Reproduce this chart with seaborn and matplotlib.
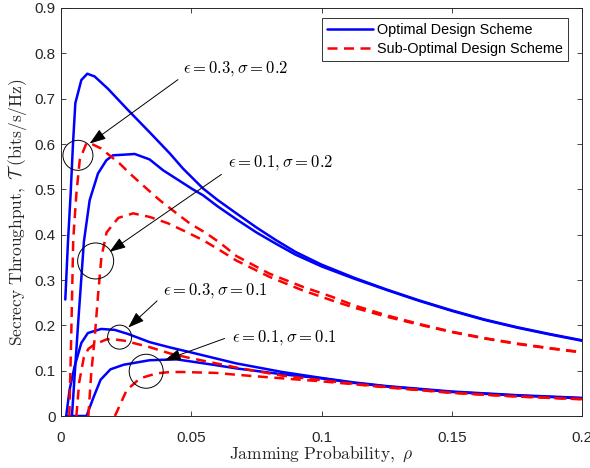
import numpy as np
import pandas as pd
import matplotlib
matplotlib.use("Agg")
import matplotlib.pyplot as plt
import seaborn as sns
from matplotlib.ticker import FixedLocator

# ---------------- data ----------------
schemes = ["Optimal Design Scheme", "Sub-Optimal Design Scheme"]
cases = ["eps0.3_sig0.2", "eps0.1_sig0.2", "eps0.3_sig0.1", "eps0.1_sig0.1"]

# Optimal design scheme
opt_a_x = [0.00165, 0.0027, 0.0037, 0.0046, 0.0055, 0.0078, 0.0101, 0.0129, 0.018, 0.0257, 0.034,
           0.0418, 0.0468, 0.0545, 0.06, 0.0673, 0.075, 0.0825, 0.09, 0.1, 0.1125, 0.125, 0.1375,
           0.15, 0.1625, 0.175, 0.1875, 0.2]
opt_a_y = [0.257, 0.387, 0.49, 0.60, 0.69, 0.741, 0.755, 0.749, 0.722, 0.675, 0.626,
           0.579, 0.546, 0.502, 0.477, 0.447, 0.416, 0.388, 0.362, 0.334, 0.305, 0.279, 0.255,
           0.233, 0.213, 0.196, 0.181, 0.167]

opt_b_x = [0.0042, 0.0065, 0.0088, 0.011, 0.0142, 0.0174, 0.0199, 0.0257, 0.0283, 0.034, 0.0392,
           0.0506, 0.0545, 0.06, 0.0673, 0.075, 0.0825, 0.09, 0.1, 0.1125, 0.125, 0.1375,
           0.15, 0.1625, 0.175, 0.1875, 0.2]
opt_b_y = [0.0, 0.198, 0.385, 0.476, 0.535, 0.564, 0.575, 0.577, 0.578, 0.566, 0.542,
           0.5, 0.487, 0.463, 0.434, 0.405, 0.380, 0.356, 0.330, 0.303, 0.278, 0.254,
           0.232, 0.212, 0.195, 0.180, 0.166]

opt_c_x = [0.002, 0.0033, 0.0052, 0.0078, 0.0103, 0.0154, 0.0206, 0.0257, 0.034, 0.042, 0.0494,
           0.0673, 0.085, 0.1, 0.1125, 0.125, 0.1375, 0.15, 0.1625, 0.175, 0.1875, 0.2]
opt_c_y = [0.0, 0.058, 0.109, 0.161, 0.183, 0.192, 0.19, 0.181, 0.163, 0.151, 0.141,
           0.116, 0.097, 0.084, 0.074, 0.066, 0.060, 0.054, 0.050, 0.046, 0.043, 0.040]

opt_d_x = [0.002, 0.0098, 0.0124, 0.0152, 0.019, 0.024, 0.034, 0.0443, 0.0596, 0.0673, 0.085,
           0.1, 0.1125, 0.125, 0.1375, 0.15, 0.1625, 0.175, 0.1875, 0.2]
opt_d_y = [0.0, 0.0, 0.04, 0.08, 0.103, 0.113, 0.123, 0.125, 0.112, 0.105, 0.092,
           0.083, 0.073, 0.065, 0.059, 0.053, 0.049, 0.045, 0.042, 0.039]

# Sub-optimal design scheme
sub_a_x = [0.0032, 0.0039, 0.0047, 0.0059, 0.0072, 0.0097, 0.0108, 0.0154, 0.0225, 0.0264, 0.0322,
           0.0379, 0.0437, 0.0494, 0.0558, 0.0615, 0.0673, 0.080, 0.0928, 0.104, 0.1125, 0.125,
           0.1375, 0.15, 0.1625, 0.175, 0.1875, 0.2]
sub_a_y = [0.0, 0.17, 0.39, 0.49, 0.565, 0.601, 0.603, 0.59, 0.557, 0.535, 0.505,
           0.476, 0.45, 0.425, 0.403, 0.38, 0.353, 0.314, 0.285, 0.263, 0.244, 0.222,
           0.203, 0.186, 0.172, 0.160, 0.150, 0.141]

sub_b_x = [0.0105, 0.0116, 0.0129, 0.0142, 0.0155, 0.0175, 0.022, 0.0277, 0.0341, 0.0411, 0.0481,
           0.0545, 0.0609, 0.0673, 0.080, 0.0928, 0.104, 0.1125, 0.125, 0.1375, 0.15, 0.1625,
           0.175, 0.1875, 0.2]
sub_b_y = [0.0, 0.094, 0.17, 0.265, 0.35, 0.405, 0.437, 0.447, 0.439, 0.425, 0.406,
           0.388, 0.366, 0.343, 0.307, 0.277, 0.255, 0.239, 0.219, 0.2015, 0.185, 0.171,
           0.159, 0.149, 0.140]

sub_c_x = [0.0059, 0.007, 0.0088, 0.0105, 0.0129, 0.0175, 0.0193, 0.0244, 0.0264, 0.034, 0.0418,
           0.0494, 0.0596, 0.0673, 0.085, 0.1, 0.1125, 0.125, 0.1375, 0.15, 0.1625, 0.175,
           0.1875, 0.2]
sub_c_y = [0.0, 0.075, 0.13, 0.148, 0.158, 0.169, 0.17, 0.166, 0.163, 0.152, 0.138,
           0.128, 0.116, 0.107, 0.089, 0.079, 0.071, 0.064, 0.0575, 0.0515, 0.047, 0.0432,
           0.0398, 0.0372]

sub_d_x = [0.0207, 0.0252, 0.0303, 0.0367, 0.0418, 0.0468, 0.0596, 0.0673, 0.085, 0.1, 0.1125,
           0.125, 0.1375, 0.15, 0.1625, 0.175, 0.1875, 0.2]
sub_d_y = [0.0, 0.057, 0.083, 0.094, 0.097, 0.097, 0.095, 0.091, 0.083, 0.0765, 0.070,
           0.063, 0.057, 0.051, 0.047, 0.043, 0.040, 0.037]

x_ticks = [0, 0.05, 0.1, 0.15, 0.2]
x_tick_labels = ["0", "0.05", "0.1", "0.15", "0.2"]
y_ticks = [0, 0.1, 0.2, 0.3, 0.4, 0.5, 0.6, 0.7, 0.8, 0.9]
y_tick_labels = ["0", "0.1", "0.2", "0.3", "0.4", "0.5", "0.6", "0.7", "0.8", "0.9"]

# annotations: label, text anchor, arrow tail, arrow tip, circle centre, circle radius (px)
ann_labels = [r"$\epsilon = 0.3, \sigma = 0.2$", r"$\epsilon = 0.1, \sigma = 0.2$",
              r"$\epsilon = 0.3, \sigma = 0.1$", r"$\epsilon = 0.1, \sigma = 0.1$"]
ann_text_xy = [(0.0467, 0.767), (0.0640, 0.560), (0.0391, 0.277), (0.0655, 0.173)]
ann_tail_xy = [(0.0449, 0.742), (0.0616, 0.533), (0.0369, 0.254), (0.0628, 0.171)]
ann_tip_xy = [(0.0110, 0.601), (0.0186, 0.362), (0.0258, 0.195), (0.0398, 0.123)]
circ_xy = [(0.0065, 0.575), (0.0133, 0.342), (0.0225, 0.174), (0.0327, 0.0987)]
circ_r = [15, 18, 12, 17]

# ---------------- build table ----------------
series = [
    (schemes[0], cases[0], opt_a_x, opt_a_y),
    (schemes[0], cases[1], opt_b_x, opt_b_y),
    (schemes[0], cases[2], opt_c_x, opt_c_y),
    (schemes[0], cases[3], opt_d_x, opt_d_y),
    (schemes[1], cases[0], sub_a_x, sub_a_y),
    (schemes[1], cases[1], sub_b_x, sub_b_y),
    (schemes[1], cases[2], sub_c_x, sub_c_y),
    (schemes[1], cases[3], sub_d_x, sub_d_y),
]
frames = []
for sch, cs, xs, ys in series:
    frames.append(pd.DataFrame({"rho": xs, "T": ys, "scheme": sch, "case": sch + cs}))
df = pd.concat(frames, ignore_index=True)

# ---------------- styling ----------------
sns.set_style("ticks")
plt.rcParams["mathtext.fontset"] = "cm"
plt.rcParams["font.family"] = ["Liberation Sans", "DejaVu Sans"]
plt.rcParams["axes.unicode_minus"] = False
plt.rcParams["lines.solid_joinstyle"] = "round"
plt.rcParams["lines.dash_joinstyle"] = "round"
dark = "#262626"

fig = plt.figure(figsize=(5.9, 4.68), dpi=100)
ax = fig.add_axes([61 / 590, 52 / 468, 521 / 590, 408 / 468])

sns.lineplot(data=df, x="rho", y="T", hue="scheme", style="scheme", units="case",
             estimator=None, sort=False, ax=ax,
             palette={schemes[0]: "#0000ff", schemes[1]: "#ff0000"},
             dashes={schemes[0]: "", schemes[1]: (4, 2.6)},
             linewidth=1.8, legend=True)

ax.set_xlim(0, 0.2)
ax.set_ylim(0, 0.9)
ax.xaxis.set_major_locator(FixedLocator(x_ticks))
ax.yaxis.set_major_locator(FixedLocator(y_ticks))
ax.set_xticklabels(x_tick_labels)
ax.set_yticklabels(y_tick_labels)
ax.tick_params(direction="in", top=True, right=True, length=3.5, width=0.6,
               labelsize=11, colors=dark)
ax.tick_params(axis="x", pad=11)
ax.tick_params(axis="y", pad=4)
for sp in ax.spines.values():
    sp.set_visible(True)
    sp.set_color(dark)
    sp.set_linewidth(0.7)

ax.set_xlabel(r"$\mathrm{Jamming\ Probability,}\ \rho$", fontsize=12.5, color=dark, labelpad=0)
ax.set_ylabel(r"$\mathrm{Secrecy\ Throughput,}\ \mathcal{T}\ \mathrm{(bits/s/Hz)}$",
              fontsize=12.5, color=dark, labelpad=4)

# legend
handles, labels = ax.get_legend_handles_labels()
leg = ax.legend(handles, labels, loc="upper right",
                bbox_to_anchor=((568.3 - 61) / 521, (416 - 18.3) / 408),
                borderaxespad=0, fancybox=False, frameon=True, edgecolor="black",
                fontsize=10.4, handlelength=3.2, handletextpad=0.3,
                labelspacing=0.3, borderpad=0.35)
leg.get_frame().set_linewidth(0.7)
for t in leg.get_texts():
    t.set_color("black")

# annotations
for lab, txy, tail, tip, cxy, r in zip(ann_labels, ann_text_xy, ann_tail_xy, ann_tip_xy, circ_xy, circ_r):
    ax.text(txy[0], txy[1], lab, fontsize=12, color="black", ha="left", va="center")
    ax.annotate("", xy=tip, xytext=tail,
                arrowprops=dict(arrowstyle="-|>,head_length=1.0,head_width=0.35",
                                color="black", lw=0.7, shrinkA=0, shrinkB=0))
    d_pt = 2 * r * 0.72
    ax.scatter([cxy[0]], [cxy[1]], s=d_pt ** 2, facecolors="none", edgecolors="black",
               linewidths=0.7, zorder=5, clip_on=False)

fig.savefig("out.png", dpi=100)
